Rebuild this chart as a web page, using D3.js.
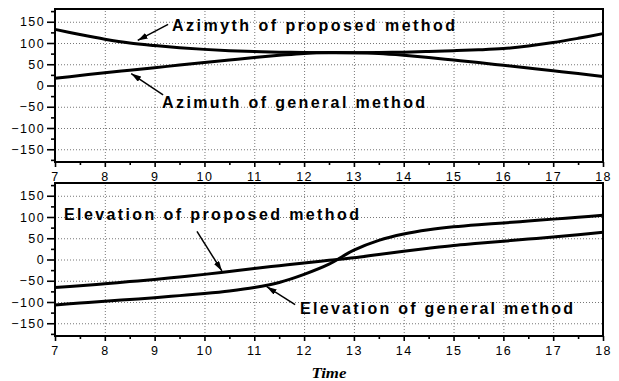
<!DOCTYPE html>
<html><head><meta charset="utf-8">
<script src="https://cdn.jsdelivr.net/npm/d3@7"></script>
<style>
body{margin:0;background:#fff}
text{font-family:"Liberation Sans",Arial,Helvetica,sans-serif}
</style></head><body>
<script>
const width = 619;
const height = 381;

// hours (x) and the four curves
const time = [7, 7.5, 8, 8.5, 9, 9.5, 10, 10.5, 11, 11.5, 12, 12.5, 13, 13.5, 14, 14.5, 15, 15.5, 16, 16.5, 17, 17.5, 18];
const azimuthProposed = [132, 120, 109, 100, 94, 89, 85, 82, 80, 78.5, 77.5, 77, 77, 77.5, 78.5, 80, 82, 84, 87, 93, 101, 111, 122];
const azimuthGeneral = [17, 23.5, 30, 36, 42, 48, 54, 60, 66, 71, 75.5, 77.5, 77, 75, 71, 66, 60, 54, 47.5, 41, 34.5, 28, 21];
const elevationProposed = [-66, -62, -57, -52, -47, -41, -35, -28, -21, -14.5, -8, -2, 4, 12, 19.5, 26.5, 33, 38, 43, 48, 53, 58.5, 64];
const elevationGeneral = [-107, -102.5, -98, -94, -90, -85, -80, -74, -66, -54, -35, -11, 22, 45, 60, 70, 77, 82, 86, 90.5, 95, 99.5, 104];

const xTicks = [7, 8, 9, 10, 11, 12, 13, 14, 15, 16, 17, 18];
const xMinor = [7.5, 8.5, 9.5, 10.5, 11.5, 12.5, 13.5, 14.5, 15.5, 16.5, 17.5];
const yTicks = [-150, -100, -50, 0, 50, 100, 150];
const yMinor = [-175, -125, -75, -25, 25, 75, 125, 175];

const labels = ["Azimyth of proposed method", "Azimuth of general method",
	"Elevation of proposed method", "Elevation of general method"];

// layout of the two stacked panels
const left = 55, right = 603;
const panels = [
	{ top: 9, bottom: 162, series: [azimuthProposed, azimuthGeneral],
		notes: [
			{ label: labels[0], at: [9.35, 129], w: 283, from: [9.27, 144], to: [8.66, 106] },
			{ label: labels[1], at: [9.15, -54], w: 263, from: [9.17, -22], to: [8.53, 28] }
		] },
	{ top: 183, bottom: 336, series: [elevationProposed, elevationGeneral],
		notes: [
			{ label: labels[2], at: [7.18, 92], w: 295, from: [9.85, 66], to: [10.35, -27] },
			{ label: labels[3], at: [11.92, -128], w: 273, from: [11.82, -106], to: [11.25, -64] }
		] }
];

const x = d3.scaleLinear().domain([7, 18]).range([left, right]);

const svg = d3.select("body")
	.append("svg")
	.attr("width", width)
	.attr("height", height);

svg.append("defs").append("marker")
	.attr("id", "arrow")
	.attr("markerUnits", "userSpaceOnUse")
	.attr("viewBox", "0 0 10 6")
	.attr("refX", 10).attr("refY", 3)
	.attr("markerWidth", 10).attr("markerHeight", 6)
	.attr("orient", "auto")
	.append("path")
	.attr("d", "M0,0L10,3L0,6Z")
	.attr("fill", "#000");

panels.forEach((p) => {
	const y = d3.scaleLinear().domain([-180, 180]).range([p.bottom, p.top]);
	const g = svg.append("g");

	// dotted grid
	g.append("g")
		.attr("transform", "translate(0," + p.bottom + ")")
		.call(d3.axisBottom(x).tickValues(xTicks.slice(1, -1)).tickSize(p.top - p.bottom).tickFormat(""))
		.call((a) => a.select(".domain").remove());
	g.append("g")
		.attr("transform", "translate(" + left + ",0)")
		.call(d3.axisLeft(y).tickValues(yTicks).tickSize(left - right).tickFormat(""))
		.call((a) => a.select(".domain").remove());
	g.selectAll(".tick line")
		.attr("stroke", "#777")
		.attr("stroke-width", 1)
		.attr("stroke-dasharray", "1,2");

	// axes
	const xa = g.append("g")
		.attr("transform", "translate(0," + p.bottom + ")")
		.call(d3.axisBottom(x).tickValues(xTicks).tickSize(5).tickSizeOuter(0).tickPadding(5));
	g.append("g")
		.attr("transform", "translate(0," + p.bottom + ")")
		.call(d3.axisBottom(x).tickValues(xMinor).tickSize(3).tickSizeOuter(0).tickFormat(""))
		.call((a) => a.select(".domain").remove());
	const ya = g.append("g")
		.attr("transform", "translate(" + left + ",0)")
		.call(d3.axisLeft(y).tickValues(yTicks).tickSize(8).tickSizeOuter(0).tickPadding(2));
	g.append("g")
		.attr("transform", "translate(" + left + ",0)")
		.call(d3.axisLeft(y).tickValues(yMinor).tickSize(4).tickSizeOuter(0).tickFormat(""))
		.call((a) => a.select(".domain").remove());
	[xa, ya].forEach((a) => a.select(".domain").remove());
	g.selectAll("g.tick text")
		.attr("font-size", 12.5)
		.attr("font-family", "Liberation Sans, Arial, sans-serif")
		.style("letter-spacing", "1.4px")
		.attr("fill", "#000");
	g.selectAll("g.tick line:not([stroke-dasharray])")
		.attr("stroke-width", 1.6);

	g.append("rect")
		.attr("x", left).attr("y", p.top)
		.attr("width", right - left).attr("height", p.bottom - p.top)
		.attr("fill", "none")
		.attr("stroke", "#000")
		.attr("stroke-width", 2);

	// curves
	const line = d3.line()
		.x((d, i) => x(time[i]))
		.y((d) => y(d))
		.curve(d3.curveCatmullRom);
	p.series.forEach((s) => {
		g.append("path")
			.datum(s)
			.attr("d", line)
			.attr("fill", "none")
			.attr("stroke", "#000")
			.attr("stroke-width", 3);
	});

	// notes with arrows
	p.notes.forEach((n) => {
		g.append("line")
			.attr("x1", x(n.from[0])).attr("y1", y(n.from[1]))
			.attr("x2", x(n.to[0])).attr("y2", y(n.to[1]))
			.attr("stroke", "#000")
			.attr("stroke-width", 1.5)
			.attr("marker-end", "url(#arrow)");
		g.append("text")
			.attr("x", x(n.at[0])).attr("y", y(n.at[1]))
			.attr("font-size", 16)
			.attr("font-weight", "bold")
			.attr("textLength", n.w)
			.attr("lengthAdjust", "spacing")
			.text(n.label);
	});
});

svg.append("text")
	.attr("x", (left + right) / 2)
	.attr("y", 378)
	.attr("text-anchor", "middle")
	.attr("font-style", "italic")
	.attr("font-weight", "bold")
	.attr("font-size", 14)
	.style("font-family", "'Liberation Serif', 'Times New Roman', serif")
	.attr("textLength", 35)
	.attr("lengthAdjust", "spacingAndGlyphs")
	.text("Time");
</script>
</body></html>
